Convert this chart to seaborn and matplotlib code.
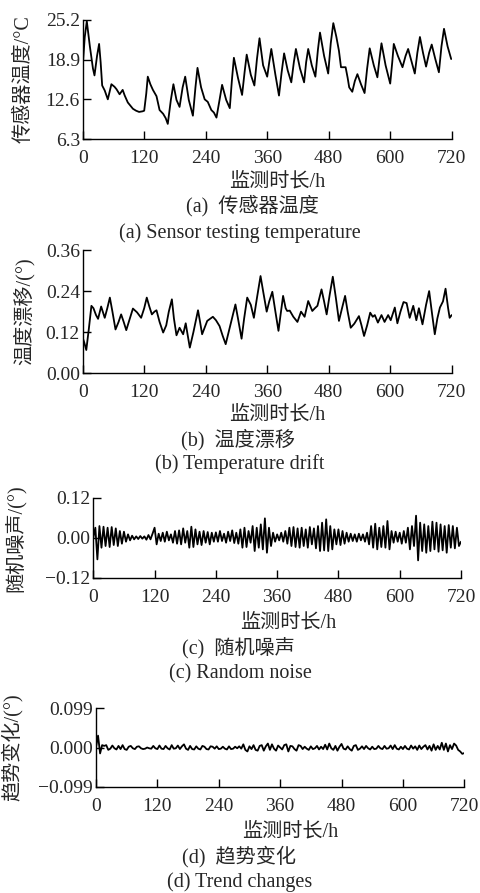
import numpy as np
import pandas as pd
import matplotlib
matplotlib.use("Agg")
import matplotlib.pyplot as plt
import seaborn as sns

# ---------------- data ----------------
hours_a = [0, 4, 8, 14, 20, 23, 28, 32, 35, 38, 43, 49, 56, 62, 66, 72, 78, 82, 88, 98,
           104, 110, 117, 120, 124, 127, 132, 137, 144, 150, 157, 162, 166, 172, 177, 183, 189, 195, 200, 207,
           215, 220, 224, 231, 238, 244, 251, 256, 261, 267, 272, 280, 287, 291, 295, 303, 311, 316, 320, 328,
           335, 340, 345, 352, 360, 364, 368, 376, 383, 388, 393, 400, 407, 412, 416, 424, 432, 436, 440, 447,
           454, 459, 463, 471, 479, 484, 489, 495, 500, 504, 513, 517, 520, 526, 531, 536, 543, 550, 555, 560,
           568, 575, 579, 583, 591, 600, 604, 607, 615, 624, 630, 635, 642, 648, 653, 658, 664, 670, 676, 681,
           688, 695, 700, 705, 712, 719]
temp_a = [17.8, 22.5, 25.0, 21.0, 17.5, 16.4, 19.5, 21.4, 18.5, 14.8, 14.0, 12.6, 15.0, 14.6, 14.2, 13.4, 14.1, 13.2, 12.1, 11.1,
          10.8, 10.6, 10.7, 10.8, 13.5, 16.2, 15.0, 14.1, 13.1, 10.9, 10.3, 9.6, 8.7, 12.5, 15.0, 12.5, 11.4, 14.5, 16.2, 12.5,
          10.0, 14.5, 17.6, 14.5, 12.6, 12.2, 10.9, 10.5, 9.7, 12.5, 14.9, 12.5, 11.2, 15.5, 19.2, 16.0, 13.3, 17.0, 19.7, 16.5,
          14.8, 19.0, 22.3, 18.0, 16.2, 18.5, 20.6, 16.5, 13.2, 16.8, 19.9, 17.2, 15.3, 18.5, 20.6, 17.5, 15.3, 18.5, 20.6, 18.0,
          16.2, 20.5, 23.2, 19.5, 16.7, 21.5, 24.7, 22.5, 20.3, 17.7, 17.7, 16.0, 14.5, 13.8, 15.5, 16.6, 15.0, 13.6, 17.5, 20.7,
          18.0, 16.1, 19.0, 21.5, 18.0, 15.1, 18.5, 21.4, 19.5, 17.7, 19.5, 20.6, 18.5, 16.7, 20.0, 22.5, 20.0, 17.8, 20.0, 21.3,
          19.0, 16.9, 21.0, 23.8, 21.0, 19.0]

hours_b = [0, 3, 7, 12, 17, 21, 26, 30, 36, 43, 48, 53, 58, 64, 70, 75, 80, 85, 92, 98,
           106, 114, 120, 125, 130, 135, 140, 144, 150, 157, 163, 168, 174, 178, 183, 189, 196, 201, 205, 209,
           216, 225, 229, 233, 243, 254, 260, 267, 273, 279, 288, 298, 303, 310, 315, 321, 328, 334, 340, 347,
           352, 359, 364, 370, 376, 382, 386, 391, 396, 399, 404, 411, 419, 426, 433, 440, 448, 453, 458, 466,
           471, 476, 482, 488, 494, 500, 506, 512, 517, 523, 530, 539, 544, 549, 555, 561, 566, 570, 576, 583,
           589, 596, 601, 609, 614, 620, 626, 632, 638, 645, 651, 656, 663, 670, 676, 682, 687, 692, 697, 703,
           708, 713, 716, 720]
drift_b = [0.104, 0.09, 0.068, 0.13, 0.197, 0.19, 0.17, 0.159, 0.195, 0.162, 0.19, 0.221, 0.18, 0.128, 0.15, 0.172, 0.15, 0.126, 0.16, 0.189,
           0.178, 0.162, 0.19, 0.221, 0.195, 0.172, 0.18, 0.184, 0.15, 0.119, 0.14, 0.18, 0.216, 0.16, 0.111, 0.133, 0.114, 0.146, 0.11, 0.075,
           0.12, 0.184, 0.15, 0.114, 0.153, 0.165, 0.155, 0.138, 0.11, 0.085, 0.14, 0.201, 0.16, 0.101, 0.16, 0.221, 0.2, 0.162, 0.22, 0.284,
           0.24, 0.18, 0.21, 0.238, 0.18, 0.124, 0.17, 0.226, 0.19, 0.182, 0.183, 0.165, 0.150, 0.180, 0.165, 0.211, 0.182, 0.19, 0.197, 0.245,
           0.21, 0.172, 0.23, 0.282, 0.22, 0.153, 0.19, 0.226, 0.18, 0.133, 0.145, 0.167, 0.14, 0.109, 0.14, 0.177, 0.165, 0.17, 0.148, 0.17,
           0.15, 0.17, 0.155, 0.192, 0.146, 0.18, 0.208, 0.205, 0.162, 0.197, 0.155, 0.19, 0.143, 0.2, 0.240, 0.17, 0.114, 0.16, 0.192, 0.21,
           0.247, 0.19, 0.162, 0.17]

hours_cd = list(range(0, 721, 4))
noise_c = [0.0, 0.03, -0.065, 0.035, -0.03, 0.033, -0.025, 0.03, -0.028, 0.032,
           -0.022, 0.028, -0.025, 0.02, -0.018, 0.018, -0.012, 0.01, -0.008, 0.006,
           -0.005, 0.004, -0.004, 0.005, -0.003, 0.004, -0.006, 0.008, -0.005, 0.012,
           0.03, -0.02, 0.012, -0.01, 0.015, -0.012, 0.018, -0.008, 0.01, -0.015,
           0.02, -0.018, 0.022, -0.02, 0.028, -0.015, 0.02, -0.03, 0.033, -0.028,
           0.025, -0.02, 0.018, -0.022, 0.02, -0.015, 0.017, -0.02, 0.015, -0.012,
           0.016, -0.012, 0.02, -0.01, 0.012, -0.015, 0.018, -0.01, 0.022, -0.016,
           0.015, -0.018, 0.025, -0.03, 0.03, -0.028, 0.02, -0.015, 0.035, -0.04,
           0.03, -0.03, 0.04, -0.035, 0.058, -0.045, 0.03, -0.025, 0.015, -0.012,
           0.01, -0.008, 0.015, -0.012, 0.02, -0.018, 0.03, -0.025, 0.032, -0.028,
           0.028, -0.03, 0.03, -0.025, 0.025, -0.03, 0.032, -0.02, 0.028, -0.032,
           0.035, -0.04, 0.045, -0.038, 0.055, -0.04, 0.035, -0.035, 0.025, -0.02,
           0.025, -0.022, 0.02, -0.018, 0.015, -0.012, 0.012, -0.01, 0.01, -0.012,
           0.012, -0.008, 0.01, -0.012, 0.015, -0.02, 0.035, -0.03, 0.042, -0.035,
           0.03, -0.028, 0.035, -0.03, 0.05, -0.035, 0.02, -0.015, 0.018, -0.012,
           0.015, -0.018, 0.02, -0.015, 0.03, -0.035, 0.035, -0.025, 0.066, -0.068,
           0.045, -0.04, 0.04, -0.045, 0.035, -0.04, 0.048, -0.035, 0.045, -0.042,
           0.04, -0.038, 0.035, -0.045, 0.038, -0.03, 0.035, -0.032, 0.03, -0.025,
           -0.012]
trend_d = [0.0, 0.03, -0.015, 0.006, 0.004, 0.006, -0.006, -0.003, 0.005, -0.002,
           -0.005, 0.004, -0.004, 0.006, -0.004, -0.006, 0.002, 0.004, -0.002, -0.004,
           0.002, 0.003, -0.002, -0.004, -0.003, 0.0, -0.002, -0.003, 0.004, -0.002,
           -0.004, 0.005, -0.003, -0.004, 0.004, -0.002, -0.005, 0.006, -0.003, -0.002,
           0.005, -0.004, 0.003, 0.008, -0.003, -0.006, 0.004, -0.004, -0.005, 0.003,
           -0.003, -0.005, 0.004, 0.002, -0.004, -0.005, 0.003, 0.002, -0.003, 0.003,
           -0.004, -0.003, 0.002, -0.003, -0.005, 0.003, -0.004, -0.003, 0.002, -0.002,
           0.003, -0.003, 0.008, -0.006, -0.01, 0.003, -0.004, 0.006, -0.006, -0.008,
           0.004, 0.006, -0.008, 0.003, 0.01, -0.006, 0.008, -0.003, -0.008, 0.005,
           0.0, -0.005, 0.006, 0.008, -0.01, 0.004, 0.003, -0.004, -0.008, 0.006,
           0.004, -0.004, 0.002, -0.003, -0.006, 0.003, -0.004, -0.002, 0.004, -0.005,
           0.002, -0.004, 0.007, -0.005, 0.01, -0.002, -0.006, 0.004, -0.008, 0.002,
           0.009, -0.003, -0.005, 0.003, -0.004, -0.008, 0.004, 0.006, -0.006, -0.003,
           0.003, -0.004, 0.004, -0.002, -0.005, 0.002, -0.004, -0.003, 0.004, -0.002,
           -0.004, 0.004, -0.003, -0.002, 0.005, -0.004, 0.006, -0.003, -0.005, 0.002,
           -0.004, 0.004, -0.003, -0.005, 0.005, -0.003, 0.003, -0.006, 0.005, -0.004,
           0.002, 0.006, -0.005, 0.004, -0.008, 0.008, -0.006, 0.004, -0.005, 0.012,
           -0.006, 0.01, -0.01, 0.006, -0.004, 0.01, 0.005, -0.006, -0.01, -0.016,
           -0.014]

x_ticks = [0, 120, 240, 360, 480, 600, 720]
yticks_a = [6.3, 12.6, 18.9, 25.2]
yticks_b = [0.00, 0.12, 0.24, 0.36]
yticks_c = [-0.12, 0.00, 0.12]
yticks_d = [-0.099, 0.000, 0.099]

ylabels = ["传感器温度/°C", "温度漂移/(°)", "随机噪声/(°)", "趋势变化/(°)"]
xlabel = "监测时长/h"
captions_cn = ["(a)  传感器温度", "(b)  温度漂移", "(c)  随机噪声", "(d)  趋势变化"]
captions_en = ["(a) Sensor testing temperature", "(b) Temperature drift",
               "(c) Random noise", "(d) Trend changes"]

# ---------------- style ----------------
sns.set_style("ticks")
FAM = ["Liberation Serif", "Noto Sans CJK SC", "DejaVu Sans"]
plt.rcParams["font.family"] = FAM
plt.rcParams["axes.unicode_minus"] = True
TFS = 14     # tick labels
FS = 14.5    # other text

W, H = 480, 893
fig = plt.figure(figsize=(W / 100, H / 100), dpi=100)

def px_axes(left, top, right, bottom):
    return fig.add_axes([left / W, 1 - bottom / H, (right - left) / W, (bottom - top) / H])

panels = [
    dict(box=(82.7, 20, 451.7, 139), x=hours_a, y=temp_a, yt=yticks_a, fmt="{:.1f}",
         ylab_x=24, xl_y=182, cn_y=206, en_y=233, cn_x=252, xl_x=277),
    dict(box=(82.7, 250, 451.7, 373.3), x=hours_b, y=drift_b, yt=yticks_b, fmt="{:.2f}",
         ylab_x=24, xl_y=415, cn_y=440, en_y=464, cn_x=238, xl_x=277),
    dict(box=(93.3, 497.7, 461, 577.7), x=hours_cd, y=noise_c, yt=yticks_c, fmt="{:.2f}",
         ylab_x=15, xl_y=623, cn_y=648, en_y=674, cn_x=238, xl_x=288),
    dict(box=(96, 708.3, 464.3, 786.7), x=hours_cd, y=trend_d, yt=yticks_d, fmt="{:.3f}",
         ylab_x=12, xl_y=832, cn_y=857, en_y=882, cn_x=239, xl_x=290),
]

for i, p in enumerate(panels):
    ax = px_axes(*p["box"])
    df = pd.DataFrame({"h": p["x"], "v": p["y"]})
    sns.lineplot(data=df, x="h", y="v", ax=ax, color="black", linewidth=1.3,
                 estimator=None, sort=False)
    ax.set_xlim(0, 720)
    ax.set_ylim(p["yt"][0], p["yt"][-1])
    ax.set_xticks(x_ticks)
    ax.set_xticklabels([str(t) for t in x_ticks], fontfamily=FAM, fontsize=TFS)
    ax.set_yticks(p["yt"])
    labs = []
    for t in p["yt"]:
        s = p["fmt"].format(abs(t))
        labs.append(("\u2212" + s) if t < 0 else s)
    ax.set_yticklabels(labs, fontfamily=FAM, fontsize=TFS)
    ax.tick_params(axis="both", direction="in", length=6, width=1, color="black")
    ax.tick_params(axis="x", pad=8)
    ax.tick_params(axis="y", pad=2)
    for s in ["top", "right"]:
        ax.spines[s].set_visible(False)
    for s in ["left", "bottom"]:
        ax.spines[s].set_linewidth(1.0)
        ax.spines[s].set_color("black")
    ax.set_xlabel("")
    ax.set_ylabel("")
    ax.set_facecolor("white")
    l, t, r, b = p["box"]
    fig.text(p["ylab_x"] / W, 1 - ((t + b) / 2) / H, ylabels[i], rotation=90,
             ha="center", va="center", fontsize=FS, family=FAM)
    fig.text(p["xl_x"] / W, 1 - p["xl_y"] / H, xlabel, ha="center", va="center",
             fontsize=FS, family=FAM)
    fig.text(p["cn_x"] / W, 1 - p["cn_y"] / H, captions_cn[i], ha="center", va="center",
             fontsize=FS, family=FAM)
    fig.text(240 / W, 1 - p["en_y"] / H, captions_en[i], ha="center", va="center",
             fontsize=FS, family=FAM)

fig.savefig("out.png", dpi=100, facecolor="white")
